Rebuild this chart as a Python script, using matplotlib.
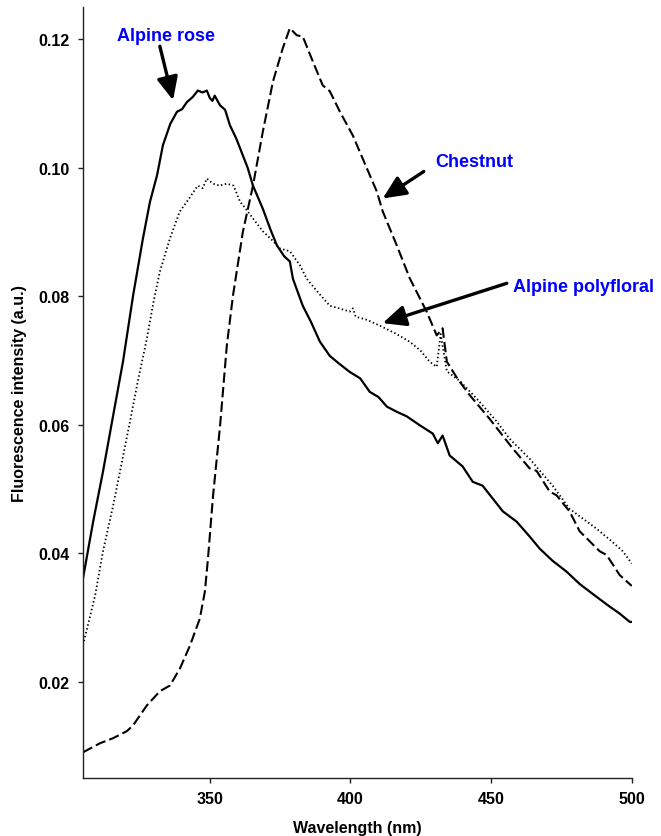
import matplotlib
matplotlib.use("Agg")
import matplotlib.pyplot as plt

plt.rcParams['font.family'] = ['Liberation Sans', 'DejaVu Sans']
plt.rcParams['font.weight'] = 'bold'

# ---- Data ----
rose_wl = [305, 308.6, 312.1, 315.7, 319.2, 322.8, 326.3, 328.8, 331.3, 333.4, 336.0, 338.4,
           340.2, 341.9, 344.0, 345.8, 347.5, 349.0, 350.1, 351.0, 351.8, 353.7, 355.5, 357.2,
           359.5, 361.8, 363.5, 365.4, 368.9, 371.5, 373.9, 376.5, 378.5, 379.6, 383.1,
           386.0, 389.2, 392.7, 396.0, 399.8, 403.5, 406.9, 410.0, 413.0, 416.5, 420.0,
           424.7, 429.3, 431.1, 432.8, 435.3, 439.9, 443.5, 447.0, 450.6, 454.2, 459.1,
           463.7, 467.3, 471.9, 476.9, 481.5, 487.5, 492.1, 495.7, 499.3, 500]
rose_val = [0.0361, 0.0449, 0.0527, 0.0614, 0.0698, 0.0801, 0.0890, 0.0947, 0.0988, 0.1035, 0.1068, 0.1087,
            0.1091, 0.1102, 0.1110, 0.1120, 0.1117, 0.1120, 0.1108, 0.1104, 0.1112, 0.1097, 0.1090, 0.1066,
            0.1045, 0.1019, 0.1000, 0.0972, 0.0936, 0.0905, 0.0879, 0.0862, 0.0854, 0.0827, 0.0785,
            0.0760, 0.0729, 0.0707, 0.0695, 0.0682, 0.0672, 0.0651, 0.0643, 0.0628, 0.0620, 0.0613,
            0.0599, 0.0586, 0.0571, 0.0583, 0.0552, 0.0535, 0.0511, 0.0505, 0.0485, 0.0465, 0.0449,
            0.0426, 0.0407, 0.0388, 0.0371, 0.0352, 0.0332, 0.0317, 0.0306, 0.0293, 0.0293]

chestnut_wl = [305, 311.0, 315.7, 320.6, 322.8, 327.7, 332.3, 335.9, 339.4, 343.0, 346.5, 348.3,
               349.4, 351.2, 353.7, 356.1, 358.3, 361.8, 365.4, 368.9, 372.5, 376.0, 378.5,
               381.0, 383.1, 386.7, 390.2, 392.7, 396.3, 400.9, 404.4, 409.4, 411.5, 416.5,
               421.1, 427.1, 430.7, 432.8, 434.3, 438.0, 442.4, 449.5, 457.7, 463.7, 466.2,
               470.8, 473.3, 477.9, 481.5, 488.6, 491.1, 495.7, 500]
chestnut_val = [0.0090, 0.0104, 0.0112, 0.0123, 0.0132, 0.0163, 0.0185, 0.0194, 0.0220, 0.0256, 0.0298, 0.0340,
                0.0391, 0.0489, 0.0598, 0.0723, 0.0801, 0.0900, 0.0972, 0.1056, 0.1134, 0.1186, 0.1217,
                0.1206, 0.1204, 0.1165, 0.1128, 0.1119, 0.1087, 0.1050, 0.1014, 0.0963, 0.0932, 0.0879,
                0.0828, 0.0776, 0.0739, 0.0750, 0.0698, 0.0672, 0.0646, 0.0609, 0.0563, 0.0532, 0.0528,
                0.0496, 0.0490, 0.0465, 0.0434, 0.0403, 0.0397, 0.0366, 0.0349]

poly_wl = [305, 309.3, 312.1, 315.7, 318.5, 321.7, 324.5, 327.7, 330.0, 332.3, 335.9, 339.4,
           341.9, 345.8, 347.5, 349.0, 351.2, 353.5, 356.1, 358.5, 360.8, 363.0, 365.4, 368.9,
           372.0, 375.0, 378.5, 382.1, 384.5, 388.5, 392.7, 396.0, 399.8, 400.9, 401.9, 406.0,
           410.5, 416.0, 421.1, 425.0, 428.2, 430.7, 432.1, 434.3, 438.9, 445.0, 452.0,
           456.6, 463.7, 471.9, 477.9, 487.5, 493.0, 496.8, 500]
poly_val = [0.0257, 0.0334, 0.0403, 0.0474, 0.0535, 0.0605, 0.0668, 0.0734, 0.0790, 0.0838, 0.0890, 0.0932,
            0.0947, 0.0972, 0.0968, 0.0983, 0.0975, 0.0972, 0.0975, 0.0972, 0.0947, 0.0935, 0.0921, 0.0901,
            0.0888, 0.0874, 0.0870, 0.0848, 0.0827, 0.0806, 0.0785, 0.0781, 0.0776, 0.0781, 0.0768, 0.0763,
            0.0754, 0.0742, 0.0729, 0.0715, 0.0698, 0.0690, 0.0741, 0.0683, 0.0668, 0.0640, 0.0605,
            0.0578, 0.0547, 0.0505, 0.0469, 0.0438, 0.0418, 0.0403, 0.0384]

x_ticks = [350, 400, 450, 500]
y_ticks = [0.02, 0.04, 0.06, 0.08, 0.10, 0.12]
y_ticklabels = ['0.02', '0.04', '0.06', '0.08', '0.10', '0.12']

# ---- Figure ----
fig = plt.figure(figsize=(6.61, 8.37), dpi=100)
ax = fig.add_axes([0.1256, 0.0693, 0.8301, 0.9211])

ax.plot(rose_wl, rose_val, color='black', lw=1.6, solid_joinstyle='round')
ax.plot(chestnut_wl, chestnut_val, color='black', lw=1.5, dashes=(5, 2))
ax.plot(poly_wl, poly_val, color='black', lw=1.3, dashes=(0.8, 1.4))

ax.set_xlim(305, 500)
ax.set_ylim(0.005, 0.125)
ax.set_xticks(x_ticks)
ax.set_yticks(y_ticks)
ax.set_yticklabels(y_ticklabels)

for s in ['top', 'right']:
    ax.spines[s].set_visible(False)
for s in ['left', 'bottom']:
    ax.spines[s].set_linewidth(1.0)
    ax.spines[s].set_color('#222222')

ax.tick_params(direction='out', length=3.5, width=1.0, labelsize=11.5, pad=6, colors='#222222')
for lbl in ax.get_xticklabels() + ax.get_yticklabels():
    lbl.set_fontweight('bold')
    lbl.set_color('black')

ax.set_xlabel('Wavelength (nm)', fontsize=11.5, fontweight='bold', labelpad=10)
ax.set_ylabel('Fluorescence intensity (a.u.)', fontsize=11.5, fontweight='bold', labelpad=8)

arrow_kw = dict(arrowstyle='-|>,head_length=0.7,head_width=0.32', lw=2.4, color='black',
                mutation_scale=20, shrinkA=0, shrinkB=0)

ax.text(334.5, 0.1206, 'Alpine rose', color='#0000ff', fontsize=13, fontweight='bold',
        ha='center', va='center')
ax.annotate('', xy=(337.0, 0.1105), xytext=(332.3, 0.1189), arrowprops=arrow_kw)

ax.text(444.2, 0.1009, 'Chestnut', color='#0000ff', fontsize=13, fontweight='bold',
        ha='center', va='center')
ax.annotate('', xy=(411.5, 0.0952), xytext=(426.1, 0.0994), arrowprops=arrow_kw)

ax.text(482.9, 0.0815, 'Alpine polyfloral', color='#0000ff', fontsize=13, fontweight='bold',
        ha='center', va='center')
ax.annotate('', xy=(411.5, 0.0758), xytext=(455.6, 0.0820), arrowprops=arrow_kw)

fig.savefig('out.png', dpi=100)
